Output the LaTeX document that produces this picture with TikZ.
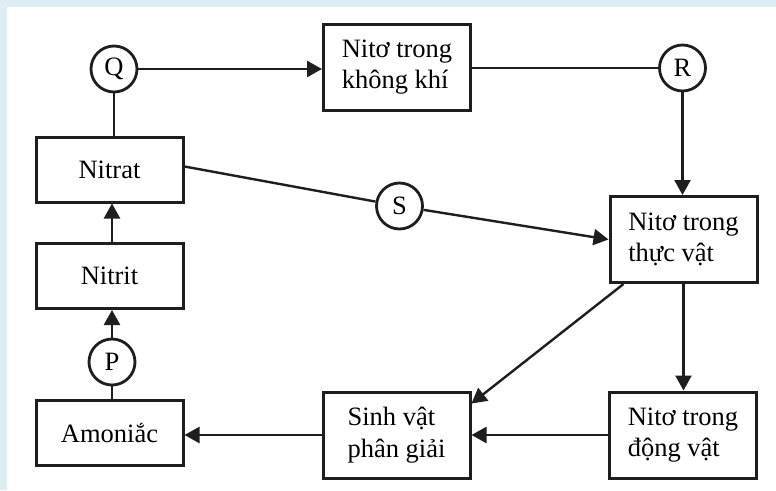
\documentclass[tikz,border=0pt]{standalone}
\usepackage{fontspec}
\setmainfont{Liberation Serif}
\usetikzlibrary{arrows.meta}
\definecolor{ink}{HTML}{1E1E1E}
\definecolor{frameblue}{HTML}{DCEEF4}
\begin{document}
\begin{tikzpicture}[x=1pt,y=-1pt,
  box/.style={draw=ink, line width=3pt, fill=white, minimum width=147pt,
    minimum height=86pt, align=left, inner sep=0pt,
    font=\fontsize{26.5}{31.5}\selectfont},
  lowbox/.style={box, minimum height=65pt},
  mark circle/.style={circle, draw=ink, line width=2.8pt, fill=white,
    minimum size=46pt, inner sep=0pt, font=\fontsize{26.5}{31.5}\selectfont},
  link/.style={draw=ink, line width=2.4pt},
  flow/.style={link, -{Triangle[length=15pt,width=16pt]}}
]
% page and light frame strips
\fill[white] (0,0) rectangle (776,490);
\fill[frameblue] (0,0) rectangle (776,7);
\fill[frameblue] (0,0) rectangle (7,490);
\useasboundingbox (0,0) rectangle (776,490);

% left column
\node[lowbox] (nitrat) at (109.5,169.5) {Nitrat};
\node[lowbox] (nitrit) at (109.5,276) {Nitrit};
\node[lowbox] (amoniac) at (109.5,433) {Amoniắc};

% top, right and bottom boxes
\node[box] (kk) at (397,67) {Nitơ trong\\không khí};
\node[box] (thucvat) at (683.5,239.5) {Nitơ trong\\thực vật};
\node[box] (svpg) at (396.5,435) {Sinh vật\\phân giải};
\node[box] (dongvat) at (683,435) {Nitơ trong\\động vật};

% lettered process markers
\node[mark circle] (Q) at (114,69) {Q};
\node[mark circle] (R) at (682.5,68) {R};
\node[mark circle] (S) at (399.5,206) {S};
\node[mark circle] (P) at (112,362) {P};

% connectors
\draw[link] (Q.south) -- (nitrat.north -| Q);
\draw[flow] (Q.east) -- (kk.west |- Q);
\draw[link] (kk.east |- R) -- (R.west);
\draw[flow] (R.south) -- (thucvat.north -| R);
\draw[link] ([yshift=3pt]nitrat.east) -- (S);
\draw[flow] (S) -- (thucvat.west);
\draw[flow] (nitrit.north -| P) -- (nitrat.south -| P);
\draw[flow] (P.north) -- (nitrit.south -| P);
\draw[link] (amoniac.north -| P) -- (P.south);
\draw[flow] ([xshift=15pt]thucvat.south west) -- ([yshift=-13pt]svpg.north east);
\draw[flow] (thucvat.south) -- (dongvat.north -| thucvat.south);
\draw[flow] (dongvat.west) -- (svpg.east);
\draw[flow] (svpg.west) -- (amoniac.east |- svpg.west);
\end{tikzpicture}
\end{document}
